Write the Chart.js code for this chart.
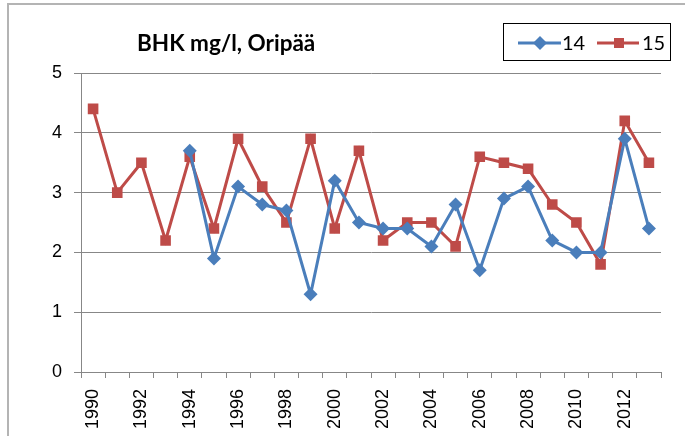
<!DOCTYPE html>
<html>
<head>
<meta charset="utf-8">
<script src="https://cdn.jsdelivr.net/npm/chart.js@4/dist/chart.umd.min.js"></script>
<style>
  html, body { margin: 0; padding: 0; background: #fff; }
  #wrap { position: relative; width: 685px; height: 436px; overflow: hidden; }
  #frame { position: absolute; left: 7px; top: 3px; width: 700px; height: 460px;
           border-left: 2px solid #b4b4b4; border-top: 2px solid #b4b4b4; box-sizing: border-box; }
  #c { position: absolute; left: 0; top: 0; }
  #title { position: absolute; left: 137px; top: 29px; font-family: Lato, "Open Sans", sans-serif;
           font-weight: bold; font-size: 22.5px; color: #000; white-space: nowrap; line-height: 28px; }
  #legend { position: absolute; left: 503px; top: 23px; width: 168px; height: 38px; box-sizing: border-box;
            border: 1px solid #000; background: #fff; }
  #legend .txt { position: absolute; top: 5px; font-family: Lato, "Open Sans", sans-serif; font-size: 20px;
                 line-height: 26px; color: #000; }
  #legend svg { position: absolute; left: 0; top: 0; }
</style>
</head>
<body>
<div id="wrap">
  <div id="frame"></div>
  <canvas id="c" width="685" height="436"></canvas>
  <div id="title">BHK mg/l, Oripää</div>
  <div id="legend">
    <svg width="166" height="36">
      <line x1="14" y1="19" x2="57" y2="19" stroke="#4a7ebb" stroke-width="3"/>
      <polygon points="29,19 36,12 43,19 36,26" fill="#4a7ebb"/>
      <line x1="93" y1="19" x2="135" y2="19" stroke="#be4b48" stroke-width="3"/>
      <rect x="110" y="14" width="10" height="10" fill="#be4b48"/>
    </svg>
    <span class="txt" style="left:58px">14</span>
    <span class="txt" style="left:138px">15</span>
  </div>
</div>
<script>
const years = ["1990","1991","1992","1993","1994","1995","1996","1997","1998","1999","2000","2001",
               "2002","2003","2004","2005","2006","2007","2008","2009","2010","2011","2012","2013"];
const series14 = [null, null, null, null, 3.7, 1.9, 3.1, 2.8, 2.7, 1.3, 3.2, 2.5,
                  2.4, 2.4, 2.1, 2.8, 1.7, 2.9, 3.1, 2.2, 2.0, 2.0, 3.9, 2.4];
const series15 = [4.4, 3.0, 3.5, 2.2, 3.6, 2.4, 3.9, 3.1, 2.5, 3.9, 2.4, 3.7,
                  2.2, 2.5, 2.5, 2.1, 3.6, 3.5, 3.4, 2.8, 2.5, 1.8, 4.2, 3.5];
const yTicks = [0, 1, 2, 3, 4, 5];

const blue = "#4a7ebb", red = "#be4b48", gridGray = "#878787";

Chart.defaults.font.family = "'Liberation Sans', Arial, sans-serif";
Chart.defaults.color = "#000";

new Chart(document.getElementById("c"), {
  type: "line",
  data: {
    labels: years,
    datasets: [
      { label: "14", data: series14, borderColor: blue, backgroundColor: blue, borderWidth: 3,
        pointStyle: "rectRot", pointRadius: 7, pointHoverRadius: 7, pointBorderWidth: 0,
        tension: 0, spanGaps: false },
      { label: "15", data: series15, borderColor: red, backgroundColor: red, borderWidth: 3,
        pointStyle: "rect", pointRadius: 7.5, pointHoverRadius: 7.5, pointBorderWidth: 0,
        tension: 0 }
    ]
  },
  options: {
    responsive: false,
    devicePixelRatio: 1,
    animation: false,
    layout: { padding: { top: 73, right: 24, left: 0, bottom: 0 } },
    plugins: { legend: { display: false }, title: { display: false }, tooltip: { enabled: false } },
    scales: {
      x: {
        type: "category",
        offset: true,
        grid: { offset: true, drawOnChartArea: false, color: gridGray, tickColor: gridGray, tickLength: 6, lineWidth: 1 },
        border: { display: true, color: gridGray, width: 1 },
        ticks: {
          autoSkip: false, maxRotation: 90, minRotation: 90, padding: 11,
          color: "#000", font: { size: 18 },
          callback: function (v, i) { return i % 2 === 0 ? years[i] : ""; }
        },
        afterFit: function (s) { s.height = 64; }
      },
      y: {
        min: 0, max: 5,
        afterBuildTicks: function (s) { s.ticks = yTicks.map(v => ({ value: v })); },
        grid: { color: gridGray, tickColor: gridGray, tickLength: 7, lineWidth: 1 },
        border: { display: true, color: gridGray, width: 1 },
        ticks: { padding: 12, color: "#000", font: { size: 18 } },
        afterFit: function (s) { s.width = 81; }
      }
    }
  }
});
</script>
</body>
</html>
